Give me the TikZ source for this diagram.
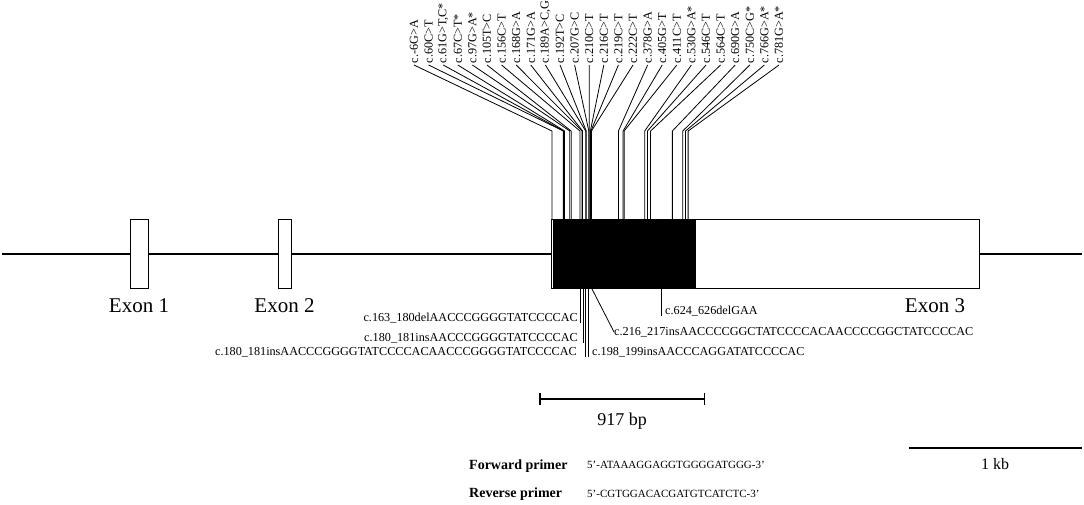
\documentclass[tikz,border=0pt]{standalone}
\usepackage{fontspec}
\setmainfont{Liberation Serif}
\usetikzlibrary{arrows.meta}

\begin{document}
\begin{tikzpicture}[x=1pt, y=-1pt,
    exon/.style={draw, line width=0.9pt, fill=white, inner sep=0pt, minimum height=69pt},
    exonname/.style={inner sep=0pt, font=\fontsize{21}{23}\selectfont},
    varlabel/.style={rotate=90, anchor=west, inner sep=1.5pt, font=\fontsize{12.2}{14}\selectfont},
    mutlabel/.style={inner sep=0pt, font=\fontsize{12.2}{14}\selectfont},
    link/.style={line width=0.8pt}]

    \useasboundingbox (0,0) rectangle (1084,504);

    % Gene backbone
    \coordinate (g0) at (2,254);
    \coordinate (g1) at (1082,254);
    \draw[line width=2pt] (g0) -- (g1);

    % Exons
    \node[exon, minimum width=18pt] (ex1) at (139,253.5) {};
    \node[exon, minimum width=13pt] (ex2) at (284.5,253.5) {};
    \node[exon, minimum width=428.5pt, anchor=west] (ex3) at (550.5,253.5) {};
    \node[fill=black, inner sep=0pt, minimum width=143pt, minimum height=69pt, anchor=west] (cds) at (553,253.5) {};

    \node[exonname] (ex1name) at (139,306) {Exon 1};
    \node[exonname] (ex2name) at (284.5,306) {Exon 2};
    \node[exonname] (ex3name) at (935,306) {Exon 3};

    % Point variants above exon 3
    \foreach \i/\pos/\txt in {1/-6/{c.-6G>A}, 2/60/{c.60C>T}, 3/61/{c.61G>T,C*}, 4/67/{c.67C>T*},
        5/97/{c.97G>A*}, 6/105/{c.105T>C}, 7/156/{c.156C>T}, 8/168/{c.168G>A}, 9/171/{c.171G>A},
        10/189/{c.189A>C,G}, 11/192/{c.192T>C}, 12/207/{c.207G>C}, 13/210/{c.210C>T},
        14/216/{c.216C>T}, 15/219/{c.219C>T}, 16/222/{c.222C>T}, 17/378/{c.378G>A},
        18/405/{c.405G>T}, 19/411/{c.411C>T}, 20/530/{c.530G>A*}, 21/546/{c.546C>T},
        22/564/{c.564C>T}, 23/690/{c.690G>A}, 24/750/{c.750C>G*}, 25/766/{c.766G>A*},
        26/781/{c.781G>A*}}{
        \node[varlabel] (v\i) at ({414+(\i-1)*14.6},65) {\txt};
        \coordinate (k\i) at ({553+0.173*(\pos)},131);
        \coordinate (e\i) at ({553+0.173*(\pos)},219);
        \draw[link] (v\i.west) -- (k\i) -- (e\i);
    }

    % Insertions and deletions below exon 3
    \node[mutlabel, anchor=east] (d1) at (578,318) {c.163\_180delAACCCGGGGTATCCCCAC};
    \node[mutlabel, anchor=east] (d2) at (578,338) {c.180\_181insAACCCGGGGTATCCCCAC};
    \node[mutlabel, anchor=east] (d3) at (577,352) {c.180\_181insAACCCGGGGTATCCCCACAACCCGGGGTATCCCCAC};
    \node[mutlabel, anchor=west] (d4) at (592,352) {c.198\_199insAACCCAGGATATCCCCAC};
    \node[mutlabel, anchor=west] (d5) at (614,332) {c.216\_217insAACCCCGGCTATCCCCACAACCCCGGCTATCCCCAC};
    \node[mutlabel, anchor=west] (d6) at (665,311) {c.624\_626delGAA};

    \foreach \j/\xb in {1/580,2/583,3/585.5,4/588.5,6/661}{
        \coordinate (b\j) at (\xb,288);
        \draw[link] (b\j) -- (b\j |- d\j.south);
    }
    \coordinate (b5) at (591.5,288);
    \draw[link] (b5) -- (d5.west);

    % Amplicon
    \coordinate (s0) at (539,399);
    \coordinate (s1) at (705,399);
    \draw[line width=1.5pt, {Bar[width=12pt]}-{Bar[width=12pt]}] (s0) -- (s1);
    \node[inner sep=0pt, font=\fontsize{18}{20}\selectfont] (bp) at (622,421) {917 bp};

    % Scale
    \coordinate (kb0) at (909,448);
    \coordinate (kb1) at (1082,448);
    \draw[line width=2.6pt] (kb0) -- (kb1);
    \node[inner sep=0pt, font=\fontsize{16}{18}\selectfont] (kb) at (995,464) {1 kb};

    % Primers
    \node[anchor=west, inner sep=0pt, font=\bfseries\fontsize{14}{16}\selectfont] (fwd) at (469,466) {Forward primer};
    \node[anchor=west, inner sep=0pt, font=\fontsize{11}{13}\selectfont] (fwdseq) at (587,465) {5'-ATAAAGGAGGTGGGGATGGG-3'};
    \node[anchor=west, inner sep=0pt, font=\bfseries\fontsize{14}{16}\selectfont] (rev) at (469,494) {Reverse primer};
    \node[anchor=west, inner sep=0pt, font=\fontsize{11}{13}\selectfont] (revseq) at (587,494) {5'-CGTGGACACGATGTCATCTC-3'};

\end{tikzpicture}
\end{document}
